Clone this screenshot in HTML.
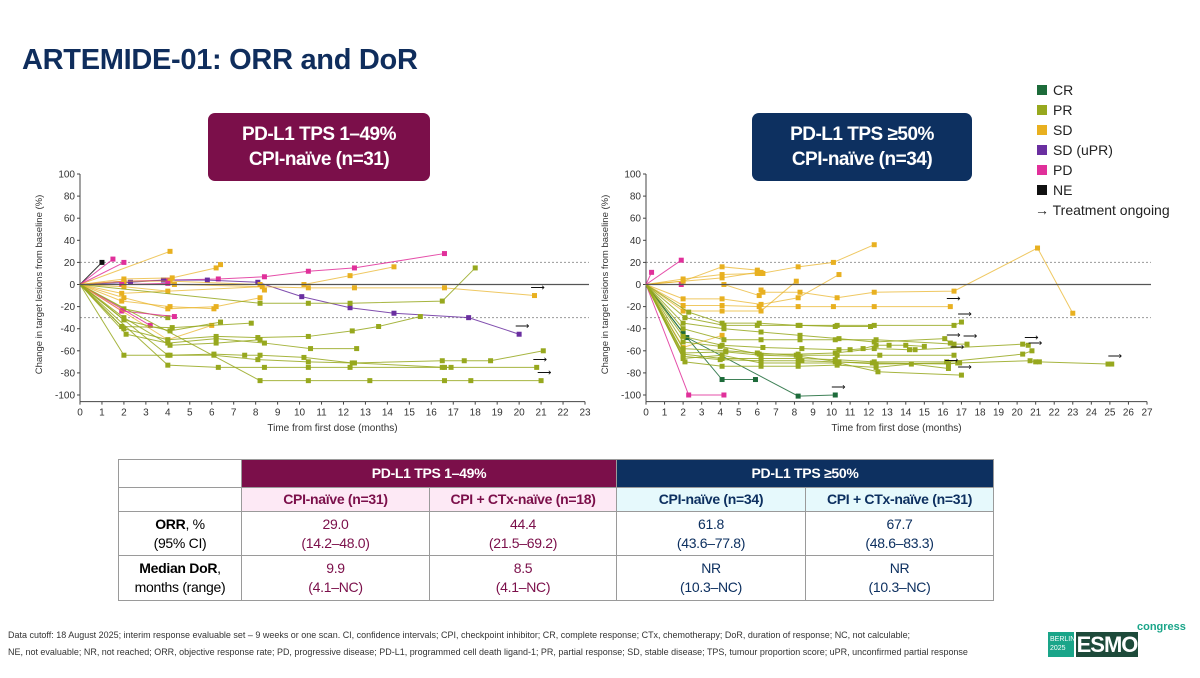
<!DOCTYPE html>
<html><head><meta charset="utf-8"><style>
body{margin:0;background:#fff;font-family:"Liberation Sans",Arial,sans-serif}
#wrap{position:relative;width:1200px;height:678px;overflow:hidden}
.t{position:absolute}
table{position:absolute;left:118px;top:459px;border-collapse:collapse;font-size:14px;font-family:"Liberation Sans",sans-serif;letter-spacing:-0.3px}
td{border:1px solid #9a9a9a;text-align:center;padding:0;line-height:19px}
</style></head><body>
<div id="wrap">
<div class="t" style="left:22px;top:44px;font-size:29px;font-weight:bold;color:#0f2d5c;letter-spacing:-0.3px">ARTEMIDE-01: ORR and DoR</div>
<div class="t" style="left:208px;top:113px;width:222px;height:68px;background:#7b0f4a;border-radius:7px;color:#fff;font-weight:bold;font-size:19px;letter-spacing:-0.5px;text-align:center;line-height:25px;padding-top:9px;box-sizing:border-box">PD-L1 TPS 1–49%<br>CPI-naïve (n=31)</div>
<div class="t" style="left:752px;top:113px;width:220px;height:68px;background:#0d3060;border-radius:7px;color:#fff;font-weight:bold;font-size:19px;letter-spacing:-0.5px;text-align:center;line-height:25px;padding-top:9px;box-sizing:border-box">PD-L1 TPS ≥50%<br>CPI-naïve (n=34)</div>
<svg id="chart" width="1200" height="678" style="position:absolute;left:0;top:0"></svg>
<table>
<tr style="height:28px"><td style="width:122px"></td><td colspan="2" style="background:#7b0f4a;color:#fff;font-weight:bold">PD-L1 TPS 1–49%</td><td colspan="2" style="background:#0d3060;color:#fff;font-weight:bold">PD-L1 TPS ≥50%</td></tr>
<tr style="height:24px"><td></td><td style="width:187px;background:#fde9f5;color:#7b0f4a;font-weight:bold">CPI-naïve (n=31)</td><td style="width:186px;background:#fde9f5;color:#7b0f4a;font-weight:bold">CPI + CTx-naïve (n=18)</td><td style="width:188px;background:#e6f9fc;color:#0d3060;font-weight:bold">CPI-naïve (n=34)</td><td style="width:187px;background:#e6f9fc;color:#0d3060;font-weight:bold">CPI + CTx-naïve (n=31)</td></tr>
<tr style="height:44px"><td><b>ORR</b>, %<br>(95% CI)</td><td style="color:#7b0f4a">29.0<br>(14.2–48.0)</td><td style="color:#7b0f4a">44.4<br>(21.5–69.2)</td><td style="color:#0d3060">61.8<br>(43.6–77.8)</td><td style="color:#0d3060">67.7<br>(48.6–83.3)</td></tr>
<tr style="height:45px"><td><b>Median DoR</b>,<br>months (range)</td><td style="color:#7b0f4a">9.9<br>(4.1–NC)</td><td style="color:#7b0f4a">8.5<br>(4.1–NC)</td><td style="color:#0d3060">NR<br>(10.3–NC)</td><td style="color:#0d3060">NR<br>(10.3–NC)</td></tr>
</table>
<div class="t" style="left:8px;top:627px;font-size:9.5px;color:#333;line-height:17px;width:1100px;transform:scaleX(0.945);transform-origin:0 0;white-space:nowrap">Data cutoff: 18 August 2025; interim response evaluable set – 9 weeks or one scan. CI, confidence intervals; CPI, checkpoint inhibitor; CR, complete response; CTx, chemotherapy; DoR, duration of response; NC, not calculable;<br>NE, not evaluable; NR, not reached; ORR, objective response rate; PD, progressive disease; PD-L1, programmed cell death ligand-1; PR, partial response; SD, stable disease; TPS, tumour proportion score; uPR, unconfirmed partial response</div>
<div class="t" style="left:1048px;top:630px;width:120px;height:28px">
<div style="position:absolute;left:0;top:2px;width:26px;height:25px;background:#1aa589;color:#fff;font-size:7px;line-height:9px;padding:3px 2px;box-sizing:border-box">BERLIN<br>2025</div>
<div style="position:absolute;left:28px;top:2px;width:62px;height:25px;background:#1d4a3a;color:#fff;font-weight:bold;font-size:22px;line-height:25px;text-align:center;letter-spacing:-1px">ESMO</div>
<div style="position:absolute;left:89px;top:-9px;color:#1aa589;font-size:11px;font-weight:bold">congress</div>
</div>
</div>
<script>
const categories=["CR","PR","SD","SD (uPR)","PD","NE"];
const catColors={"CR":"#1d6b3a","PR":"#97a81e","SD":"#e8b020","SD (uPR)":"#6a2fa0","PD":"#e0309a","NE":"#111111"};
const yTicks=[100,80,60,40,20,0,-20,-40,-60,-80,-100];
const leftTypes=["NE","PD","PD","SD","PD","SD (uPR)","SD","SD","SD","PD","SD","SD","SD","SD","PR","PD","PD","PR","SD","PR","PR","PR","PR","PR","PR","PR","PR","PR"];
const leftTimes=[[0,1],[0,1.5],[0,2],[0,4.1],[0,2,4,6.3,8.4,10.4,12.5,16.6],[0,2.3,3.8,5.8,8.1,10.1,12.3,14.3,17.7,20],[0,2,4.2,6.2,6.4],[0,2,4.1,8.2,10.2,12.3,14.3],[0,2,4.3,10.4,12.5,16.6,20.7],[0,1.9,4],[0,2,4],[0,1.9,8.3,8.4],[0,2,4,6.2,8.2],[0,1.9,4.1,6.1],[0,2,4],[0,1.9,4.3],[0,3.2],[0,8.2,10.4,12.3,16.5,18],[0,4,6],[0,2,4.1,6.4],[0,1.9,4.2,7.8],[0,2,4,6.2,8.1,10.4,12.4,13.6,15.5],[0,2.1,4,6.2,8.4,10.5,12.6],[0,2,4.1,6.2,8.2],[0,4,6.1,7.5,8.2,10.2,12.4,16.5,17.5,18.7,21.1],[0,2,4.1,6.1,8.1,10.4,12.5,16.6,16.9],[0,4,6.3,8.4,10.4,12.3,16.5,20.8],[0,8.2,10.4,13.2,16.6,17.8,21]];
const leftValues=[[0,20],[0,23],[0,20],[0,30],[0,3,4,5,7,12,15,28],[0,2,4,4,2,-11,-21,-26,-30,-45],[0,5,6,15,18],[0,3,3,0,0,8,16],[0,0,0,-3,-3,-3,-10],[0,0,1],[0,-2,-6],[0,-8,-2,-5],[0,-12,-22,-20,-12],[0,-15,-20,-22],[0,-22,-30],[0,-24,-29],[0,-37],[0,-17,-17,-17,-15,15],[0,-50,-37],[0,-32,-42,-34],[0,-38,-39,-35],[0,-40,-50,-47,-48,-47,-42,-38,-29],[0,-45,-53,-49,-53,-58,-58],[0,-30,-55,-53,-50],[0,-64,-63,-64,-64,-66,-71,-69,-69,-69,-60],[0,-64,-64,-64,-68,-70,-71,-75,-75],[0,-73,-75,-75,-75,-75,-75,-75],[0,-87,-87,-87,-87,-87,-87]];
const leftOngoing=[0,0,0,0,0,1,0,0,1,0,0,0,0,0,0,0,0,0,0,0,0,0,0,0,0,0,1,1];
const rightTypes=["PD","PD","PD","PD","SD","SD","SD","SD","SD","SD","SD","SD","CR","CR","PR","PR","PR","PR","PR","PR","PR","PR","PR","PR","PR","PR"];
const rightTimes=[[0,0.3],[0,1.9],[0,2.3,4.2],[0,1.9],[0,2,4.1,6,6.2,8.2,10.1,12.3],[0,2,4.1,6,6.3],[0,4.1,6,6.2],[0,4.2,6.1,6.2,6.3,8.3,10.3,12.3,16.6,21.1,23],[0,2,4.1,6.2,8.2,10.4],[0,2,4.1,6.1,8.2,10.1,12.3,16.4],[0,2,4.1,6.2,8.1],[0,2,4.1],[0,2,4.1,5.9],[0,2.2,8.2,10.2],[0,2.3,4.1,6.1,8.2,10.3,12.3,16.6,17],[0,2.1,4.2,6,8.3,10.2,12.1],[0,2,4.2,6.2,8.3,10.4,12.3,16.1,16.4],[0,2,4.2,6.2,8.3,10.2,12.4,16.6,17.3],[0,2,4.1,6.3,8.4,10.4,11,11.7,12.4,13.1,14,15],[0,2,4,6.1,8.2,10.2,12.3,14.2,14.5,20.3,20.6],[0,2,4.3,6,8.1,10.3,12.6,16.6],[0,2,4.1,6.2,8.2,10.2,12.3,16.2,20.3,20.8],[0,2,4,6.2,8.4,10.2,12.2,16.3,16.8,20.7,21,21.2,24.9,25.1],[0,2.1,4.1,6.2,8.2,10.3,12.4,14.3,16.3],[0,2,4.1,6.2,8.2,10.4,12.5,17],[0,2,4.3,6.2,8.3,10.4,12.4,16.9]];
const rightValues=[[0,11],[0,22],[0,-100,-100],[0,0],[0,3,16,13,10,16,20,36],[0,5,9,10,10],[0,6,11,11],[0,0,-10,-5,-7,-7,-12,-7,-6,33,-26],[0,-13,-13,-18,-12,9],[0,-19,-19,-20,-20,-20,-20,-20],[0,-24,-24,-24,3],[0,-57,-46],[0,-44,-86,-86],[0,-48,-101,-100],[0,-25,-35,-35,-37,-37,-37,-37,-34],[0,-30,-37,-37,-37,-38,-38],[0,-35,-40,-43,-46,-49,-52,-49,-53],[0,-40,-50,-50,-50,-50,-50,-54,-54],[0,-47,-55,-57,-58,-59,-59,-58,-55,-55,-55,-56],[0,-52,-56,-63,-63,-62,-58,-59,-59,-54,-55],[0,-58,-60,-62,-64,-64,-64,-64],[0,-63,-67,-67,-67,-68,-70,-70,-63,-60],[0,-65,-68,-69,-69,-70,-71,-72,-71,-69,-70,-70,-72,-72],[0,-70,-74,-74,-74,-73,-75,-72,-76],[0,-67,-64,-71,-71,-71,-79,-82],[0,-62,-61,-64,-65,-70,-72,-71]];
const rightOngoing=[0,0,0,0,0,0,0,0,0,1,0,0,0,1,1,0,1,1,0,1,1,1,1,1,1,0];

const svg=document.getElementById('chart');
const NS='http://www.w3.org/2000/svg';
function mk(tag,attrs,parent){const e=document.createElementNS(NS,tag);for(const k in attrs)e.setAttribute(k,attrs[k]);(parent||svg).appendChild(e);return e;}
function drawPlot(prefix,x0,x1,xMax,types,times,values,ongoing){
  const yTop=174,yBot=395;
  const X=t=>x0+(x1-x0)*t/xMax;
  const Y=v=>yTop+(100-v)*(yBot-yTop)/200;
  const g=mk('g',{});
  
  
  [20,-30].forEach(v=>{const l=mk('line',{x1:x0,x2:x1+4,y1:Y(v),y2:Y(v),stroke:'#999','stroke-dasharray':'2,2','stroke-width':1},g);
    
    });
  const ay=mk('line',{x1:x0,x2:x0,y1:yTop,y2:Y(-106),stroke:'#444'},g);
  
  
  const ax=mk('line',{x1:x0,x2:x1,y1:Y(-106),y2:Y(-106),stroke:'#444'},g);
  
  
  yTicks.forEach(v=>{mk('line',{x1:x0-3,x2:x0,y1:Y(v),y2:Y(v),stroke:'#444'},g);
    const t=mk('text',{x:x0-5,y:Y(v)+3.5,'text-anchor':'end','font-size':10,fill:'#333'},g);t.textContent=v;
    
    });
  for(let m=0;m<=xMax;m++){mk('line',{x1:X(m),x2:X(m),y1:Y(-106),y2:Y(-106)+3,stroke:'#444'},g);
    const t=mk('text',{x:X(m),y:Y(-106)+14,'text-anchor':'middle','font-size':10,fill:'#333'},g);t.textContent=m;
    
    }
  const xt=mk('text',{x:(x0+x1)/2,y:431,'text-anchor':'middle','font-size':10,fill:'#333'},g);xt.textContent='Time from first dose (months)';
  
  
  const yt=mk('text',{x:0,y:0,'text-anchor':'middle','font-size':9.5,fill:'#333',transform:`translate(${x0-38},${(yTop+yBot)/2}) rotate(-90)`},g);yt.textContent='Change in target lesions from baseline (%)';
  
  
  types.forEach((ty,i)=>{
    const c=catColors[ty];
    const pts=times[i].map((t,j)=>X(t)+','+Y(values[i][j])).join(' ');
    const pl=mk('polyline',{points:pts,fill:'none',stroke:c,'stroke-width':1,'stroke-opacity':ty==='SD'?0.7:0.85},g);
    
    
    times[i].forEach((t,j)=>{if(j===0)return;
      const r=mk('rect',{x:X(t)-2.5,y:Y(values[i][j])-2.5,width:5,height:5,fill:c},g);
      
      });
    if(ongoing[i]){const n=times[i].length-1;
      const a=mk('text',{x:X(times[i][n])-4,y:Y(values[i][n])-5,'font-size':10,fill:'#111'},g);a.textContent='⟶';
      
      }
  });
  const zl=mk('line',{x1:x0,x2:x1+4,y1:Y(0),y2:Y(0),stroke:'#555','stroke-width':1.2},g);
  
  
}
drawPlot('left',80,585,23,leftTypes,leftTimes,leftValues,leftOngoing);
drawPlot('right',646,1147,27,rightTypes,rightTimes,rightValues,rightOngoing);
const lg=mk('g',{});


categories.forEach((c,i)=>{const y=90+i*20;
  const r=mk('rect',{x:1037,y:y-5,width:10,height:10,fill:catColors[c]},lg);
  
  
  const t=mk('text',{x:1053,y:y+5,'font-size':14,fill:'#222'},lg);t.textContent=c;
  
  });
const lt=mk('text',{x:1035,y:215,'font-size':14,fill:'#222'},lg);lt.textContent='→ Treatment ongoing';


</script>
</body></html>
